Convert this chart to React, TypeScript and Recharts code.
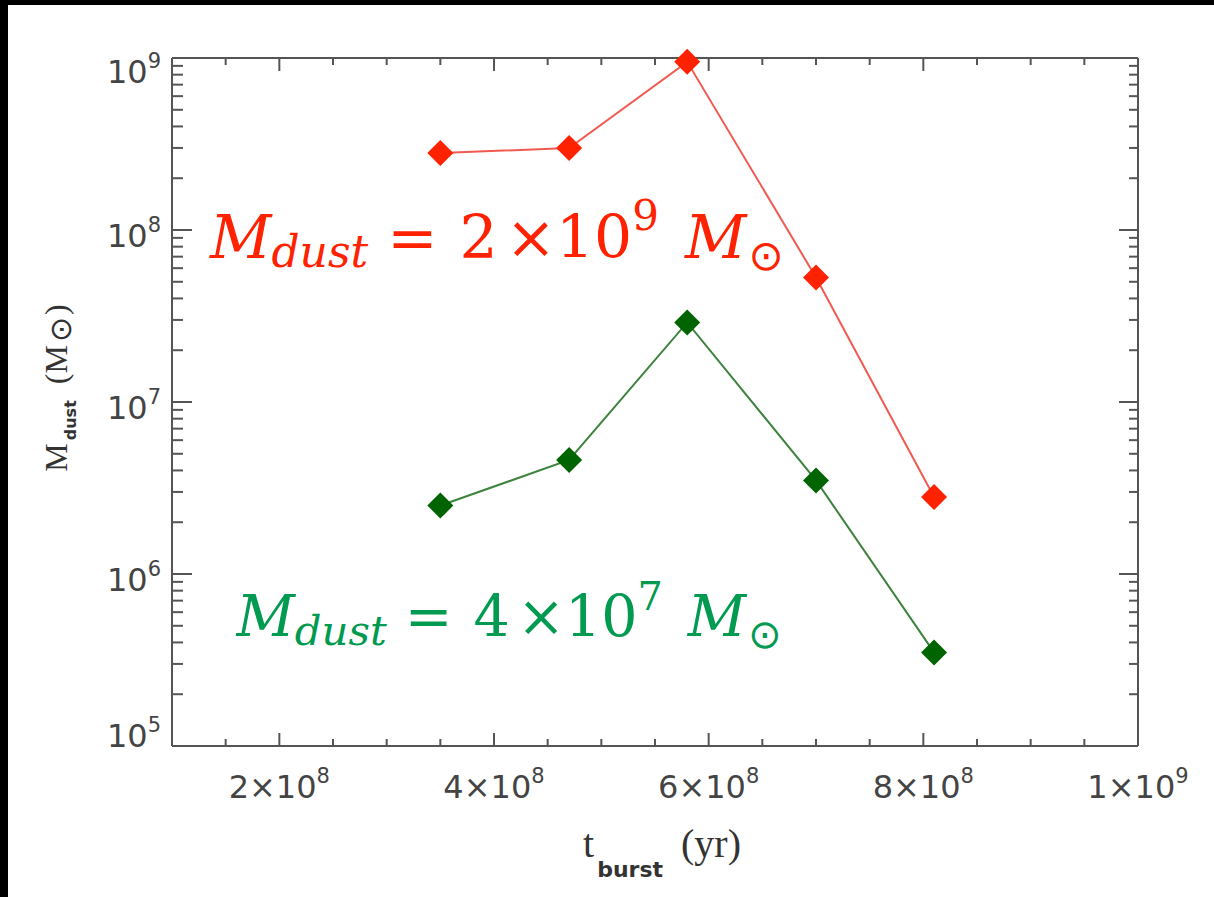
import React from 'react';
import { LineChart, Line, XAxis, YAxis, ReferenceDot, Label } from 'recharts';

// burst age (yr) and dust masses (Msun)
const tBurst = [3.5e8, 4.7e8, 5.8e8, 7.0e8, 8.1e8];
const dustHigh = [2.8e8, 3.0e8, 9.5e8, 5.3e7, 2.8e6];
const dustLow = [2.5e6, 4.6e6, 2.9e7, 3.5e6, 3.5e5];

const xMajorTicks = [2e8, 4e8, 6e8, 8e8, 1e9];
const xMajorLabels = [['2', '8'], ['4', '8'], ['6', '8'], ['8', '8'], ['1', '9']];
const xMinorTicks = [1.5e8, 2.5e8, 3e8, 3.5e8, 4.5e8, 5e8, 5.5e8, 6.5e8, 7e8, 7.5e8, 8.5e8, 9e8, 9.5e8];

const yMajorTicks = [1e5, 1e6, 1e7, 1e8, 1e9];
const yMajorExps = ['5', '6', '7', '8', '9'];
const yMinorTicks: number[] = [];
for (let e = 5; e < 9; e++) for (let m = 2; m < 10; m++) yMinorTicks.push(m * Math.pow(10, e));

// total dust mass labels, anchored at (t, Mdust) of their left baseline
const noteX = [1.354e8, 1.6e8];
const noteY = [6.85e7, 4.34e5];
const noteCoef = ['2', '4'];
const noteExp = ['9', '7'];

const data = tBurst.map((t, i) => ({ t, high: dustHigh[i], low: dustLow[i] }));

// layout
const W = 1206;
const H = 892;
const MARGIN = { top: 52, right: 75, bottom: 91, left: 0 };
const Y_AXIS_W = 164;
const X_AXIS_H = 60;
const PLOT_LEFT = MARGIN.left + Y_AXIS_W;
const PLOT_TOP = MARGIN.top + 1;
const PLOT_RIGHT = W - MARGIN.right - 1;
const PLOT_BOTTOM = H - MARGIN.bottom - X_AXIS_H;

const AXIS = '#555';
const TICK_FONT = "'DejaVu Sans', sans-serif";
const noteColors = ['#ff2200', '#009a50'];
const noteScale = [1, 0.95];

const Diamond = (props: any) => {
  const { cx, cy, fill } = props;
  if (cx == null || cy == null) return null;
  const r = 13;
  return <polygon points={`${cx},${cy - r} ${cx + r},${cy} ${cx},${cy + r} ${cx - r},${cy}`} fill={fill} />;
};

const BottomTick = (props: any) => {
  const { x, payload } = props;
  const y = PLOT_BOTTOM;
  const i = xMajorTicks.indexOf(payload.value);
  const major = i >= 0;
  return (
    <g>
      <line x1={x} x2={x} y1={y} y2={y - (major ? 13 : 7)} stroke={AXIS} strokeWidth={2} />
      {major && (
        <text x={x} y={y + 52} textAnchor="middle" fontFamily={TICK_FONT} fontSize={32} fill="#444">
          {xMajorLabels[i][0]}×10
          <tspan fontSize={21} dy={-15}>{xMajorLabels[i][1]}</tspan>
        </text>
      )}
    </g>
  );
};

const TopTick = (props: any) => {
  const { x, payload } = props;
  const y = PLOT_TOP;
  const major = xMajorTicks.indexOf(payload.value) >= 0;
  return <line x1={x} x2={x} y1={y} y2={y + (major ? 13 : 7)} stroke={AXIS} strokeWidth={2} />;
};

const LeftTick = (props: any) => {
  const { y, payload } = props;
  const x = PLOT_LEFT;
  const i = yMajorTicks.indexOf(payload.value);
  const major = i >= 0;
  let dy = 17;
  if (i === yMajorTicks.length - 1) dy = 25;
  if (i === 0) dy = 1;
  return (
    <g>
      <line x1={x} x2={x + (major ? 20 : 11)} y1={y} y2={y} stroke={AXIS} strokeWidth={2} />
      {major && (
        <text x={x - 11} y={y + dy} textAnchor="end" fontFamily={TICK_FONT} fontSize={32} fill="#444">
          10
          <tspan fontSize={21} dy={-15}>{yMajorExps[i]}</tspan>
        </text>
      )}
    </g>
  );
};

const RightTick = (props: any) => {
  const { y, payload } = props;
  const x = PLOT_RIGHT;
  const major = yMajorTicks.indexOf(payload.value) >= 0;
  return <line x1={x} x2={x - (major ? 19 : 9)} y1={y} y2={y} stroke={AXIS} strokeWidth={2} />;
};

const XTitle = () => {
  const cx = (PLOT_LEFT + PLOT_RIGHT) / 2 + 7;
  return (
    <text x={cx} y={PLOT_BOTTOM + 111} textAnchor="middle" fontFamily="'Liberation Serif', serif" fontSize={40} fill="#333">
      t
      <tspan fontFamily="'DejaVu Sans', sans-serif" fontWeight="bold" fontSize={22} dy={20} dx={3}>burst</tspan>
      <tspan dy={-20} dx={18}>(yr)</tspan>
    </text>
  );
};

const YTitle = () => {
  const cx = 59;
  const cy = (PLOT_TOP + PLOT_BOTTOM) / 2 - 14;
  return (
    <text x={cx} y={cy} transform={`rotate(-90, ${cx}, ${cy})`} textAnchor="middle" fontFamily="'Liberation Serif', serif" fontSize={32} fill="#333">
      M
      <tspan fontFamily="'DejaVu Sans', sans-serif" fontWeight="bold" fontSize={16} dy={9} dx={3}>dust</tspan>
      <tspan dy={-9} dx={16}>(M</tspan>
      <tspan fontFamily="'DejaVu Sans', sans-serif" fontSize={30} dy={4} dx={3}>⊙</tspan>
      <tspan dy={-4} dx={2}>)</tspan>
    </text>
  );
};

const MathNote = (props: any, i: number) => {
  const { x, y } = props.viewBox;
  const s = noteScale[i];
  return (
    <text x={x} y={y} fill={noteColors[i]} fontFamily="'DejaVu Serif', serif" fontSize={60 * s}>
      <tspan fontStyle="italic">M</tspan>
      <tspan fontStyle="italic" fontSize={44 * s} dy={9 * s}>dust</tspan>
      <tspan dx={19 * s} dy={-9 * s}>=</tspan>
      <tspan dx={22 * s}>{noteCoef[i]}</tspan>
      <tspan dx={8 * s}>×</tspan>
      <tspan dx={0}>10</tspan>
      <tspan fontSize={42 * s} dy={-28 * s}>{noteExp[i]}</tspan>
      <tspan fontStyle="italic" dx={26 * s} dy={28 * s}>M</tspan>
      <tspan fontFamily="'DejaVu Sans', sans-serif" fontSize={42 * s} dx={2 * s} dy={12 * s}>⊙</tspan>
    </text>
  );
};

export default function App() {
  return (
    <div style={{ position: 'absolute', left: 0, top: 0, width: 1214, height: 897, background: '#000' }}>
      <div style={{ position: 'absolute', left: 8, top: 5, width: W, height: H, background: '#fff' }}>
        <LineChart width={W} height={H} data={data} margin={MARGIN}>
          <XAxis
            xAxisId="bottom"
            dataKey="t"
            type="number"
            domain={[1e8, 1e9]}
            ticks={[...xMajorTicks, ...xMinorTicks]}
            interval={0}
            height={X_AXIS_H}
            tickLine={false}
            axisLine={{ stroke: AXIS, strokeWidth: 2 }}
            tick={<BottomTick />}
          >
            <Label content={XTitle} />
          </XAxis>
          <XAxis
            xAxisId="top"
            orientation="top"
            dataKey="t"
            type="number"
            domain={[1e8, 1e9]}
            ticks={[...xMajorTicks, ...xMinorTicks]}
            interval={0}
            height={1}
            tickLine={false}
            axisLine={{ stroke: AXIS, strokeWidth: 2 }}
            tick={<TopTick />}
          />
          <YAxis
            yAxisId="left"
            type="number"
            scale="log"
            domain={[1e5, 1e9]}
            ticks={[...yMajorTicks, ...yMinorTicks]}
            interval={0}
            width={Y_AXIS_W}
            tickLine={false}
            axisLine={{ stroke: AXIS, strokeWidth: 2 }}
            tick={<LeftTick />}
          >
            <Label content={YTitle} />
          </YAxis>
          <YAxis
            yAxisId="right"
            orientation="right"
            type="number"
            scale="log"
            domain={[1e5, 1e9]}
            ticks={[...yMajorTicks, ...yMinorTicks]}
            interval={0}
            width={1}
            tickLine={false}
            axisLine={{ stroke: AXIS, strokeWidth: 2 }}
            tick={<RightTick />}
          />
          {/* invisible series so the mirrored top/right axes get a scale */}
          <Line
            xAxisId="top"
            yAxisId="right"
            dataKey="high"
            stroke="none"
            dot={false}
            activeDot={false}
            legendType="none"
            isAnimationActive={false}
          />
          <Line
            xAxisId="bottom"
            yAxisId="left"
            dataKey="low"
            stroke="#3d823d"
            strokeWidth={2}
            dot={(p: any) => <Diamond key={p.index} cx={p.cx} cy={p.cy} fill="#006400" />}
            isAnimationActive={false}
          />
          <Line
            xAxisId="bottom"
            yAxisId="left"
            dataKey="high"
            stroke="#f05a50"
            strokeWidth={2}
            dot={(p: any) => <Diamond key={p.index} cx={p.cx} cy={p.cy} fill="#ff2200" />}
            isAnimationActive={false}
          />
          {noteX.map((nx, i) => (
            <ReferenceDot
              key={i}
              xAxisId="bottom"
              yAxisId="left"
              x={nx}
              y={noteY[i]}
              r={0}
              stroke="none"
              label={(p: any) => MathNote(p, i)}
            />
          ))}
        </LineChart>
      </div>
    </div>
  );
}
